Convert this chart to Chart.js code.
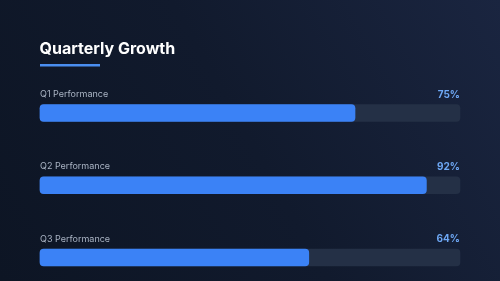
<!DOCTYPE html>
<html><head><meta charset="utf-8">
<script src="https://cdn.jsdelivr.net/npm/chart.js@4.4.1/dist/chart.umd.min.js"></script>
<style>html,body{margin:0;padding:0;background:#0f1729;}#wrap{width:500px;height:281px;position:relative;}</style>
</head><body><div id="wrap"><canvas id="c" width="500" height="281"></canvas></div>
<script>
const categories = ["Q1 Performance", "Q2 Performance", "Q3 Performance"];
const values = [75, 92, 64];
const trackValues = [100, 100, 100];
const valueLabels = ["75%", "92%", "64%"];
const chartTitle = "Quarterly Growth";

const bgPlugin = {
  id: 'bg',
  beforeDraw(chart) {
    const ctx = chart.ctx, w = chart.width, h = chart.height;
    ctx.save();
    const g = ctx.createLinearGradient(0, h, w, 0);
    g.addColorStop(0, '#0d1524');
    g.addColorStop(0.5, '#111a2d');
    g.addColorStop(1, '#1a2540');
    ctx.fillStyle = g;
    ctx.fillRect(0, 0, w, h);
    ctx.restore();
  }
};

const textPlugin = {
  id: 'texts',
  afterDraw(chart) {
    const ctx = chart.ctx, area = chart.chartArea;
    const meta = chart.getDatasetMeta(1);
    ctx.save();
    ctx.fillStyle = '#ffffff';
    ctx.font = 'bold 16px Inter, sans-serif';
    ctx.textBaseline = 'middle';
    ctx.textAlign = 'left';
    ctx.fillText(chartTitle, area.left - 0.5, 49);
    ctx.fillStyle = '#4a8ef0';
    ctx.fillRect(area.left, 64, 60, 2.5);
    meta.data.forEach((bar, i) => {
      const y = bar.y - 18.5;
      ctx.font = '9px Inter, sans-serif';
      ctx.fillStyle = '#aab4c4';
      ctx.textAlign = 'left';
      ctx.fillText(categories[i], area.left, y);
      ctx.font = 'bold 10px Inter, sans-serif';
      ctx.fillStyle = '#6ea8f5';
      ctx.textAlign = 'right';
      ctx.fillText(valueLabels[i], area.right, y);
    });
    ctx.restore();
  }
};

new Chart(document.getElementById('c'), {
  type: 'bar',
  data: {
    labels: categories,
    datasets: [
      { data: trackValues, backgroundColor: '#243046', borderRadius: 4, borderSkipped: false, barThickness: 17, order: 2, clip: false },
      { data: values, backgroundColor: '#3b82f6', borderRadius: 4, borderSkipped: false, barThickness: 17, order: 1, clip: false }
    ]
  },
  options: {
    indexAxis: 'y',
    responsive: false,
    animation: false,
    events: [],
    layout: { padding: { left: 40, right: 40, top: 113, bottom: 23.5 } },
    scales: {
      x: { min: 0, max: 100, display: false },
      y: { type: 'category', offset: false, display: false, grid: { display: false } }
    },
    datasets: { bar: { grouped: false } },
    plugins: { legend: { display: false }, tooltip: { enabled: false }, title: { display: false } }
  },
  plugins: [bgPlugin, textPlugin]
});
</script></body></html>
